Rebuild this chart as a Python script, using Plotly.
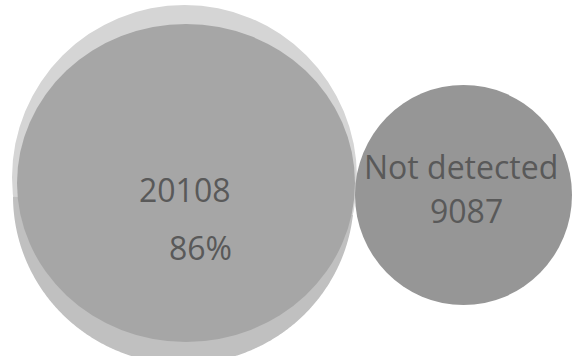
import numpy as np
import plotly.graph_objects as go

# Venn counts and labels
set_names = ["", "Not detected"]
set_counts = [20108, 9087]
share_labels = ["86%", ""]

W, H = 572, 356

# circle geometry in canvas units (x right, y down)
outer_light = dict(x0=12, x1=357, y0=5, y1=350)
outer_dark = dict(x0=13, x1=354, y0=28, y1=364)
inner = dict(x0=17, x1=355, y0=24, y1=342)
right = dict(x0=355, x1=572, y0=85, y1=305)


def ellipse_lower_path(e, yl, yr):
    """Path for the part of an ellipse lying below the line from (x0, yl) to (x1, yr)."""
    cx, cy = (e["x0"] + e["x1"]) / 2, (e["y0"] + e["y1"]) / 2
    rx, ry = (e["x1"] - e["x0"]) / 2, (e["y1"] - e["y0"]) / 2
    t = np.linspace(0, 2 * np.pi, 720)
    xs, ys = cx + rx * np.cos(t), cy + ry * np.sin(t)
    cut = yl + (yr - yl) * (xs - e["x0"]) / (e["x1"] - e["x0"])
    keep = ys >= cut
    xs, ys = xs[keep], ys[keep]
    order = np.argsort(np.arctan2(ys - cy, xs - cx))
    xs, ys = xs[order], ys[order]
    pts = " L ".join(f"{x:.2f},{y:.2f}" for x, y in zip(xs, ys))
    return "M " + pts + " Z"


fig = go.Figure()
fig.add_trace(go.Scatter(x=[0, W], y=[0, H], mode="markers",
                         marker=dict(opacity=0), hoverinfo="skip", showlegend=False))

shapes = [
    dict(type="circle", xref="x", yref="y", fillcolor="#d5d5d5", line_width=0, layer="below", **outer_light),
    dict(type="path", xref="x", yref="y", path=ellipse_lower_path(outer_dark, 196, 214),
         fillcolor="#c0c0c0", line_width=0, layer="below"),
    dict(type="circle", xref="x", yref="y", fillcolor="#a6a6a6", line_width=0, layer="below", **inner),
    dict(type="circle", xref="x", yref="y", fillcolor="#969696", line_width=0, layer="below", **right),
]

font = dict(family="'Open Sans', 'Noto Sans', sans-serif", size=32, color="#595959")
annotations = [
    dict(x=184.5, y=189, text=str(set_counts[0])),
    dict(x=200, y=247.5, text=share_labels[0]),
    dict(x=460.5, y=166, text=set_names[1]),
    dict(x=466, y=210.5, text=str(set_counts[1])),
]
for a in annotations:
    a.update(xref="x", yref="y", showarrow=False, font=font, xanchor="center", yanchor="middle")

fig.update_layout(
    width=W, height=H,
    margin=dict(l=0, r=0, t=0, b=0),
    paper_bgcolor="white", plot_bgcolor="white",
    xaxis=dict(range=[0, W], visible=False, fixedrange=True),
    yaxis=dict(range=[H, 0], visible=False, fixedrange=True),
    shapes=shapes,
    annotations=annotations,
    showlegend=False,
)

fig.write_html("out.html")
